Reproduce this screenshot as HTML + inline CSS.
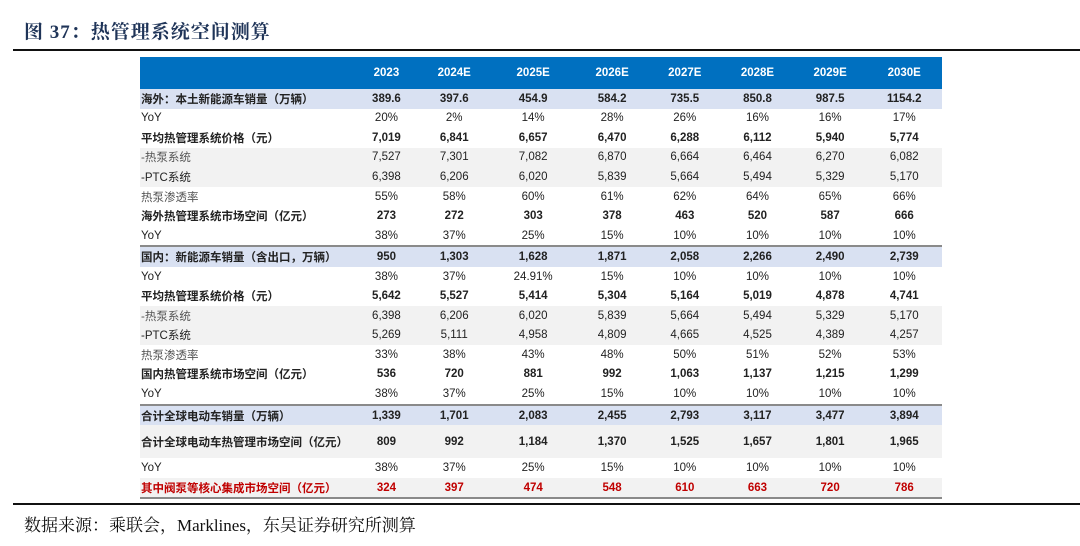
<!DOCTYPE html>
<html><head><meta charset="utf-8"><style>
body{margin:0;width:1080px;height:546px;background:#fff;position:relative;overflow:hidden;font-family:"Liberation Sans","Noto Sans CJK SC",sans-serif;}
#title{position:absolute;left:24px;top:17px;font-family:"Liberation Serif","Noto Serif CJK SC",serif;font-weight:bold;font-size:19px;color:#1f3458;letter-spacing:1px;}
#topline{position:absolute;left:13px;top:49px;width:1067px;height:2px;background:#111;}
#botline{position:absolute;left:13px;top:503px;width:1067px;height:2px;background:#111;}
#src{position:absolute;left:24px;top:511px;font-family:"Liberation Serif","Noto Serif CJK SC",serif;font-size:17px;color:#111;}
table{position:absolute;left:140px;top:57px;width:802px;border-collapse:collapse;font-size:11.5px;color:#222;}
td,th{padding:0;height:19.56px;text-align:center;white-space:nowrap;}
th{background:#0070c0;color:#fff;height:32px;font-size:11.5px;}
td:first-child,th:first-child{text-align:left;width:214px;padding-left:1px;}
tr.b td{font-weight:bold;}
tr.hl td{background:#d9e1f2;font-weight:bold;}
tr.g td{background:#f2f2f2;}
tr.tl td{border-top:2px solid #8a8a8a;}
tr.tall td{height:33px;}
tr.red td{color:#c00000;font-weight:bold;border-bottom:2px solid #8a8a8a;}
tr.lt td:first-child{color:#555;}
</style></head><body>
<div id="title">图 37：热管理系统空间测算</div>
<div id="topline"></div>
<table>
<tr><th></th><th>2023</th><th>2024E</th><th>2025E</th><th>2026E</th><th>2027E</th><th>2028E</th><th>2029E</th><th>2030E</th></tr>
<tr class="hl"><td>海外：本土新能源车销量（万辆）</td><td>389.6</td><td>397.6</td><td>454.9</td><td>584.2</td><td>735.5</td><td>850.8</td><td>987.5</td><td>1154.2</td></tr>
<tr><td>YoY</td><td>20%</td><td>2%</td><td>14%</td><td>28%</td><td>26%</td><td>16%</td><td>16%</td><td>17%</td></tr>
<tr class="b"><td>平均热管理系统价格（元）</td><td>7,019</td><td>6,841</td><td>6,657</td><td>6,470</td><td>6,288</td><td>6,112</td><td>5,940</td><td>5,774</td></tr>
<tr class="g lt"><td>-热泵系统</td><td>7,527</td><td>7,301</td><td>7,082</td><td>6,870</td><td>6,664</td><td>6,464</td><td>6,270</td><td>6,082</td></tr>
<tr class="g"><td>-PTC系统</td><td>6,398</td><td>6,206</td><td>6,020</td><td>5,839</td><td>5,664</td><td>5,494</td><td>5,329</td><td>5,170</td></tr>
<tr class="lt"><td>热泵渗透率</td><td>55%</td><td>58%</td><td>60%</td><td>61%</td><td>62%</td><td>64%</td><td>65%</td><td>66%</td></tr>
<tr class="b"><td>海外热管理系统市场空间（亿元）</td><td>273</td><td>272</td><td>303</td><td>378</td><td>463</td><td>520</td><td>587</td><td>666</td></tr>
<tr><td>YoY</td><td>38%</td><td>37%</td><td>25%</td><td>15%</td><td>10%</td><td>10%</td><td>10%</td><td>10%</td></tr>
<tr class="hl tl"><td>国内：新能源车销量（含出口，万辆）</td><td>950</td><td>1,303</td><td>1,628</td><td>1,871</td><td>2,058</td><td>2,266</td><td>2,490</td><td>2,739</td></tr>
<tr><td>YoY</td><td>38%</td><td>37%</td><td>24.91%</td><td>15%</td><td>10%</td><td>10%</td><td>10%</td><td>10%</td></tr>
<tr class="b"><td>平均热管理系统价格（元）</td><td>5,642</td><td>5,527</td><td>5,414</td><td>5,304</td><td>5,164</td><td>5,019</td><td>4,878</td><td>4,741</td></tr>
<tr class="g lt"><td>-热泵系统</td><td>6,398</td><td>6,206</td><td>6,020</td><td>5,839</td><td>5,664</td><td>5,494</td><td>5,329</td><td>5,170</td></tr>
<tr class="g"><td>-PTC系统</td><td>5,269</td><td>5,111</td><td>4,958</td><td>4,809</td><td>4,665</td><td>4,525</td><td>4,389</td><td>4,257</td></tr>
<tr class="lt"><td>热泵渗透率</td><td>33%</td><td>38%</td><td>43%</td><td>48%</td><td>50%</td><td>51%</td><td>52%</td><td>53%</td></tr>
<tr class="b"><td>国内热管理系统市场空间（亿元）</td><td>536</td><td>720</td><td>881</td><td>992</td><td>1,063</td><td>1,137</td><td>1,215</td><td>1,299</td></tr>
<tr><td>YoY</td><td>38%</td><td>37%</td><td>25%</td><td>15%</td><td>10%</td><td>10%</td><td>10%</td><td>10%</td></tr>
<tr class="hl tl"><td>合计全球电动车销量（万辆）</td><td>1,339</td><td>1,701</td><td>2,083</td><td>2,455</td><td>2,793</td><td>3,117</td><td>3,477</td><td>3,894</td></tr>
<tr class="g b tall"><td>合计全球电动车热管理市场空间（亿元）</td><td>809</td><td>992</td><td>1,184</td><td>1,370</td><td>1,525</td><td>1,657</td><td>1,801</td><td>1,965</td></tr>
<tr><td>YoY</td><td>38%</td><td>37%</td><td>25%</td><td>15%</td><td>10%</td><td>10%</td><td>10%</td><td>10%</td></tr>
<tr class="g red"><td>其中阀泵等核心集成市场空间（亿元）</td><td>324</td><td>397</td><td>474</td><td>548</td><td>610</td><td>663</td><td>720</td><td>786</td></tr>
</table>
<div id="botline"></div>
<div id="src">数据来源：乘联会，Marklines，东吴证券研究所测算</div>
</body></html>
